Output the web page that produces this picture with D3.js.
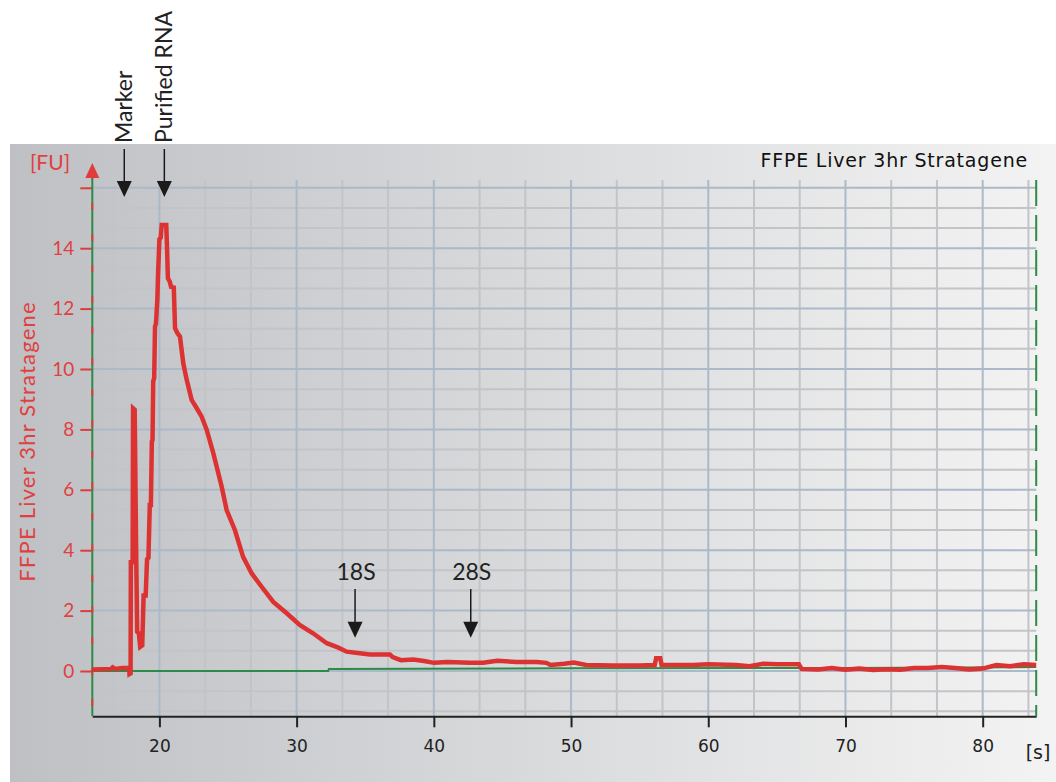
<!DOCTYPE html>
<html>
<head>
<meta charset="utf-8">
<script src="https://cdn.jsdelivr.net/npm/d3@7"></script>
<style>
  body { margin: 0; background: #fff; }
  .tickRed text { fill: #e04040; font-family: Lato, "Noto Sans", sans-serif; font-size: 19px; }
  .tickBlack text { fill: #222; font-family: "DejaVu Sans", sans-serif; font-size: 17px; }
  .note { font-family: Lato, "Noto Sans", sans-serif; font-size: 23px; fill: #222; }
</style>
</head>
<body>
<div class="chart"></div>
<script>
// electropherogram trace (time in s, fluorescence in FU)
var traceTime = [15.1, 16.5, 16.6, 16.8, 17.3, 17.8, 17.82, 17.9, 17.92, 18.05, 18.08, 18.2, 18.3, 18.38, 18.5, 18.6,
  18.75, 18.85, 19.0, 19.1, 19.2, 19.3, 19.38, 19.45, 19.5, 19.55, 19.62, 19.68, 19.75, 19.85, 19.9, 20.0,
  20.1, 20.17, 20.5, 20.55, 20.62, 20.75, 20.85, 21.05, 21.14, 21.3, 21.5, 21.74, 21.99, 22.35, 22.72, 23.08,
  23.45, 23.93, 24.54, 24.9, 25.5, 26.1, 26.73, 27.45, 28.3, 29.28, 30.25, 31.2, 32.2, 33.0, 33.65, 34.6,
  35.35, 36.8, 37.0, 37.6, 38.5, 39.3, 40.0, 41.0, 42.6, 43.6, 44.6, 46.0, 47.5, 48.2, 48.5, 49.5,
  50.2, 51.1, 53.0, 55.0, 56.1, 56.2, 56.5, 56.6, 58.9, 60, 62, 63, 64, 65, 66.6, 66.8,
  68, 69, 70, 71, 72, 73, 74, 75, 76, 77, 78, 79, 80, 81, 82, 83, 83.9];
var traceFU = [0.05, 0.07, 0.12, 0.07, 0.1, 0.1, -0.1, -0.08, 3.6, 3.6, 8.7, 8.65, 4.2, 1.3, 1.25, 0.8,
  0.85, 2.5, 2.5, 3.7, 3.75, 5.5, 5.5, 7.6, 7.65, 9.6, 9.7, 11.4, 11.5, 12.3, 13.1, 14.3,
  14.35, 14.77, 14.77, 14.1, 13.0, 12.9, 12.72, 12.7, 11.35, 11.2, 11.07, 10.19, 9.64, 8.98, 8.7, 8.42,
  7.98, 7.21, 6.1, 5.33, 4.67, 3.78, 3.23, 2.79, 2.29, 1.91, 1.52, 1.25, 0.92, 0.78, 0.64, 0.59,
  0.55, 0.55, 0.46, 0.36, 0.38, 0.33, 0.27, 0.3, 0.27, 0.27, 0.34, 0.3, 0.3, 0.27, 0.2, 0.24,
  0.28, 0.2, 0.18, 0.18, 0.2, 0.42, 0.42, 0.2, 0.2, 0.22, 0.2, 0.16, 0.24, 0.22, 0.22, 0.07,
  0.05, 0.1, 0.04, 0.08, 0.03, 0.06, 0.04, 0.1, 0.1, 0.13, 0.1, 0.05, 0.08, 0.2, 0.16, 0.22, 0.2];

// baseline trace
var baseTime = [15.1, 32.3, 32.35, 50, 70, 83.9];
var baseFU = [0, 0, 0.07, 0.09, 0.1, 0.13];

var xTicks = [20, 30, 40, 50, 60, 70, 80];
var yTicks = [0, 2, 4, 6, 8, 10, 12, 14, 16];

// peak labels: top ones and ones inside the plot
var topNotes = ["Marker", "Purified RNA"];
var topNoteTime = [17.44, 20.36];
var peakNotes = ["18S", "28S"];
var peakNoteTime = [34.26, 42.69];

var title = "FFPE Liver 3hr Stratagene";

var svgWidth = 1056, svgHeight = 782;
var margin = { top: 180, right: 20, bottom: 66, left: 92 };

var svg = d3.select(".chart").append("svg")
  .attr("width", svgWidth)
  .attr("height", svgHeight);

var defs = svg.append("defs");
var grad = defs.append("linearGradient").attr("id", "bg").attr("x1", 0).attr("x2", 1).attr("y1", 0).attr("y2", 0);
grad.append("stop").attr("offset", "0%").attr("stop-color", "#bec0c4");
grad.append("stop").attr("offset", "50%").attr("stop-color", "#d9dadc");
grad.append("stop").attr("offset", "100%").attr("stop-color", "#f3f3f3");

svg.append("rect")
  .attr("x", 10).attr("y", 144)
  .attr("width", svgWidth - 10).attr("height", svgHeight - 144)
  .attr("fill", "url(#bg)");

var xScale = d3.scaleLinear().domain([15.11, 83.9]).range([92.3, 1036.2]);
var yScale = d3.scaleLinear().domain([-1.5, 16]).range([716.3, 187.8]);

var x0 = xScale.range()[0], x1 = xScale.range()[1];
var yBottom = yScale(-1.5), yTop = margin.top;

// minor grid at thirds of the major step
var minorX = d3.range(10, 90, 10 / 3).filter(d => Math.abs(d / 10 - Math.round(d / 10)) > 0.01 && d > 15.2 && d < 83.8);
var minorY = d3.range(-4, 17, 2 / 3).filter(d => Math.abs(d / 2 - Math.round(d / 2)) > 0.01 && d > -1.45 && d < 16.1);

var grid = svg.append("g");
grid.selectAll(".mx").data(minorX).enter().append("line")
  .attr("x1", d => xScale(d)).attr("x2", d => xScale(d))
  .attr("y1", yTop).attr("y2", yBottom)
  .attr("stroke", "#c2c4c7").attr("stroke-width", 2);
grid.selectAll(".my").data(minorY).enter().append("line")
  .attr("x1", x0).attr("x2", x1)
  .attr("y1", d => yScale(d)).attr("y2", d => yScale(d))
  .attr("stroke", "#c2c4c7").attr("stroke-width", 2);
grid.selectAll(".gx").data(xTicks).enter().append("line")
  .attr("x1", d => xScale(d)).attr("x2", d => xScale(d))
  .attr("y1", yTop).attr("y2", yBottom)
  .attr("stroke", "#abb9c8").attr("stroke-width", 2);
grid.selectAll(".gy").data(yTicks).enter().append("line")
  .attr("x1", x0).attr("x2", x1)
  .attr("y1", d => yScale(d)).attr("y2", d => yScale(d))
  .attr("stroke", "#abb9c8").attr("stroke-width", 2);

// x axis
var bottomAxis = d3.axisBottom(xScale).tickValues(xTicks).tickSize(11).tickPadding(13).tickSizeOuter(0);
var gx = svg.append("g")
  .attr("class", "tickBlack")
  .attr("transform", `translate(0, ${yBottom})`)
  .call(bottomAxis);
gx.select(".domain").attr("stroke", "#222").attr("stroke-width", 2);
gx.selectAll(".tick line").attr("stroke", "#222").attr("stroke-width", 2);

svg.append("text")
  .attr("x", 1038).attr("y", 759)
  .attr("text-anchor", "middle")
  .attr("font-family", "DejaVu Sans, sans-serif")
  .attr("font-size", "19px")
  .attr("fill", "#222")
  .text("[s]");

// y axis
var leftAxis = d3.axisLeft(yScale).tickValues(yTicks).tickSize(12).tickPadding(6).tickSizeOuter(0)
  .tickFormat(d => d === 16 ? "" : d);
var gy = svg.append("g")
  .attr("class", "tickRed")
  .attr("transform", `translate(${x0}, 0)`)
  .call(leftAxis);
gy.select(".domain").remove();
gy.selectAll(".tick line").attr("stroke", "#e03c3c").attr("stroke-width", 2);

svg.append("line")
  .attr("x1", x0).attr("x2", x0).attr("y1", 172).attr("y2", yBottom)
  .attr("stroke", "#2e8a47").attr("stroke-width", 2);
svg.append("line")
  .attr("x1", x0).attr("x2", x0).attr("y1", 172).attr("y2", yBottom)
  .attr("stroke", "#e03c3c").attr("stroke-width", 2)
  .attr("stroke-dasharray", "7,24");
svg.append("path")
  .attr("d", `M${x0 - 7},178 L${x0},163 L${x0 + 7},178 Z`)
  .attr("fill", "#e03c3c");

// right border
svg.append("line")
  .attr("x1", x1).attr("x2", x1).attr("y1", yTop).attr("y2", yBottom)
  .attr("stroke", "#2e8a47").attr("stroke-width", 2)
  .attr("stroke-dasharray", "26,9");

svg.append("text")
  .attr("x", 50).attr("y", 170)
  .attr("text-anchor", "middle")
  .attr("font-family", "Lato, sans-serif")
  .attr("font-size", "21px")
  .attr("fill", "#e04040")
  .text("[FU]");

svg.append("text")
  .attr("transform", `translate(35, ${yScale(7.6)}) rotate(-90)`)
  .attr("text-anchor", "middle")
  .attr("font-family", "Lato, sans-serif")
  .attr("font-size", "22px")
  .attr("letter-spacing", "1.2px")
  .attr("fill", "#e04040")
  .text(title);

svg.append("text")
  .attr("x", 1028).attr("y", 167)
  .attr("text-anchor", "end")
  .attr("font-family", "DejaVu Sans, sans-serif")
  .attr("font-size", "19px")
  .attr("letter-spacing", "0.8px")
  .attr("fill", "#111")
  .text(title);

// traces
var baseData = baseTime.map((t, i) => ({ t: t, v: baseFU[i] }));
var traceData = traceTime.map((t, i) => ({ t: t, v: traceFU[i] }));
var line = d3.line().x(d => xScale(d.t)).y(d => yScale(d.v));

svg.append("path")
  .datum(baseData)
  .attr("d", line)
  .attr("fill", "none")
  .attr("stroke", "#2e8a47")
  .attr("stroke-width", 2);

svg.append("path")
  .datum(traceData)
  .attr("d", line)
  .attr("fill", "none")
  .attr("stroke", "#dc3232")
  .attr("stroke-width", 4.5)
  .attr("stroke-linejoin", "miter");

// arrows
function arrow(x, yStart, yTip) {
  svg.append("line")
    .attr("x1", x).attr("x2", x).attr("y1", yStart).attr("y2", yTip - 12)
    .attr("stroke", "#1a1a1a").attr("stroke-width", 1.5);
  svg.append("path")
    .attr("d", `M${x - 7.5},${yTip - 16} L${x + 7.5},${yTip - 16} L${x},${yTip} Z`)
    .attr("fill", "#1a1a1a");
}

topNotes.forEach(function (label, i) {
  var x = xScale(topNoteTime[i]);
  svg.append("text")
    .attr("class", "note")
    .attr("transform", `translate(${x + 8}, 143) rotate(-90)`)
    .text(label);
  arrow(x, 149, 197);
});

peakNotes.forEach(function (label, i) {
  var x = xScale(peakNoteTime[i]);
  svg.append("text")
    .attr("class", "note")
    .attr("x", x + 1).attr("y", 580)
    .attr("text-anchor", "middle")
    .text(label);
  arrow(x, 589, yScale(1.1));
});
</script>
</body>
</html>
